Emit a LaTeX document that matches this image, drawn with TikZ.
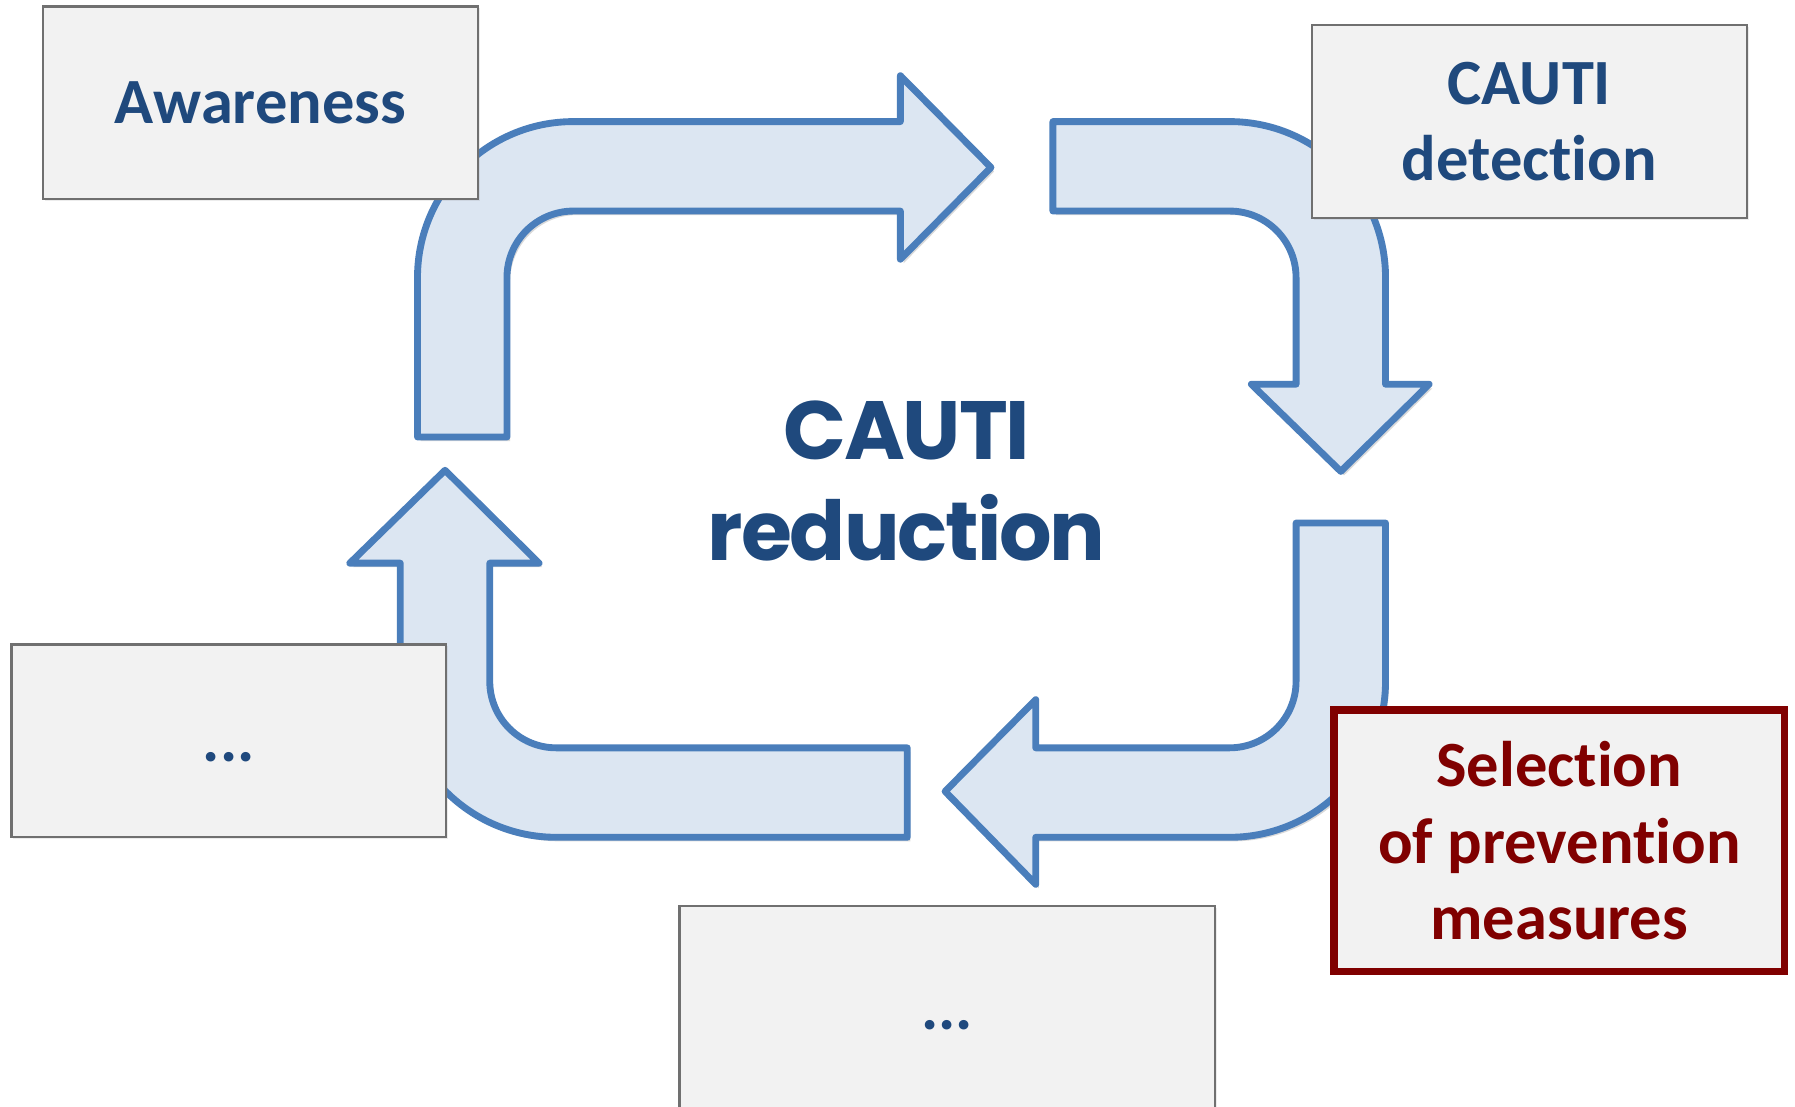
\documentclass[tikz,border=0pt]{standalone}
\usepackage{fontspec}
\setmainfont{Carlito}[RawFeature={-liga;-clig;-calt;-dlig}]
\newfontfamily\gothic{Poppins}[LetterSpace=-2.5, RawFeature={-liga;-clig;-calt;-dlig}]
\usetikzlibrary{shadows}

\definecolor{arrowfill}{HTML}{DCE6F2}
\definecolor{arrowline}{HTML}{4A7EBB}
\definecolor{textblue}{HTML}{1F497D}
\definecolor{boxfill}{HTML}{F2F2F2}
\definecolor{boxline}{HTML}{707070}
\definecolor{maroon}{HTML}{800000}

\begin{document}
\begin{tikzpicture}[
			x = 0.1mm, y = -0.1mm,
			bendarrow/.style = {fill=arrowfill, draw=arrowline, line width=1.7pt, line join=round,
				drop shadow={opacity=0.3, shadow xshift=0.8pt, shadow yshift=-1pt}},
			stagebox/.style = {rectangle, fill=boxfill, draw=boxline, line width=0.6pt, inner sep=0pt,
				minimum width=37.9mm, minimum height=16.8mm, align=center,
				drop shadow={opacity=0.15, shadow xshift=0.5pt, shadow yshift=-0.5pt},
				font=\bfseries\fontsize{16}{19}\selectfont, text=textblue},
			focusbox/.style = {stagebox, draw=maroon, text=maroon, line width=1.8pt,
				minimum width=39.3mm, minimum height=22.8mm},
			centertext/.style = {align=center, text=textblue,
				font=\gothic\bfseries\fontsize{20.5}{25.2}\selectfont}]

			\def\R{136}
			\def\r{58}

			\useasboundingbox (0,0) rectangle (1565,964.3);
			\clip (0,0) rectangle (1565,964.3);

			% the four bent arrows of the cycle
			\draw[bendarrow] (364,381) -- (364,242) arc[start angle=180, end angle=270, radius=\R]
				-- (785,106) -- (785,66) -- (864,146) -- (785,226) -- (785,184)
				-- (500,184) arc[start angle=270, end angle=180, radius=\r] -- (442,381) -- cycle;
			\draw[bendarrow] (918,106) -- (1072,106) arc[start angle=270, end angle=360, radius=\R]
				-- (1208,335) -- (1246,335) -- (1169,411) -- (1091,335) -- (1130,335)
				-- (1130,242) arc[start angle=0, end angle=-90, radius=\r] -- (918,184) -- cycle;
			\draw[bendarrow] (1130,456) -- (1208,456) -- (1208,594) arc[start angle=0, end angle=90, radius=\R]
				-- (903,730) -- (903,771) -- (824,690) -- (903,610) -- (903,652)
				-- (1072,652) arc[start angle=90, end angle=0, radius=\r] -- cycle;
			\draw[bendarrow] (791,652) -- (791,730) -- (485,730) arc[start angle=90, end angle=180, radius=\R]
				-- (349,491) -- (305,491) -- (388,410) -- (470,491) -- (427,491)
				-- (427,594) arc[start angle=180, end angle=90, radius=\r] -- cycle;

			\node[stagebox] (aware) at (227,89.5) {Awareness};
			\node[stagebox] (detect) at (1333.5,106) {CAUTI\\detection};
			\node[stagebox] (otherL) at (199.5,645.8) {\vphantom{A}...};
			\node[stagebox, minimum width=46.7mm, minimum height=17.9mm] (otherB) at (826,879.6) {\vphantom{A}...};
			\node[focusbox] (select) at (1359.5,733) {Selection\\of prevention\\measures};

			\node[centertext] (goal) at (790.5,419.5) {CAUTI\\reduction};

		\end{tikzpicture}
\end{document}
